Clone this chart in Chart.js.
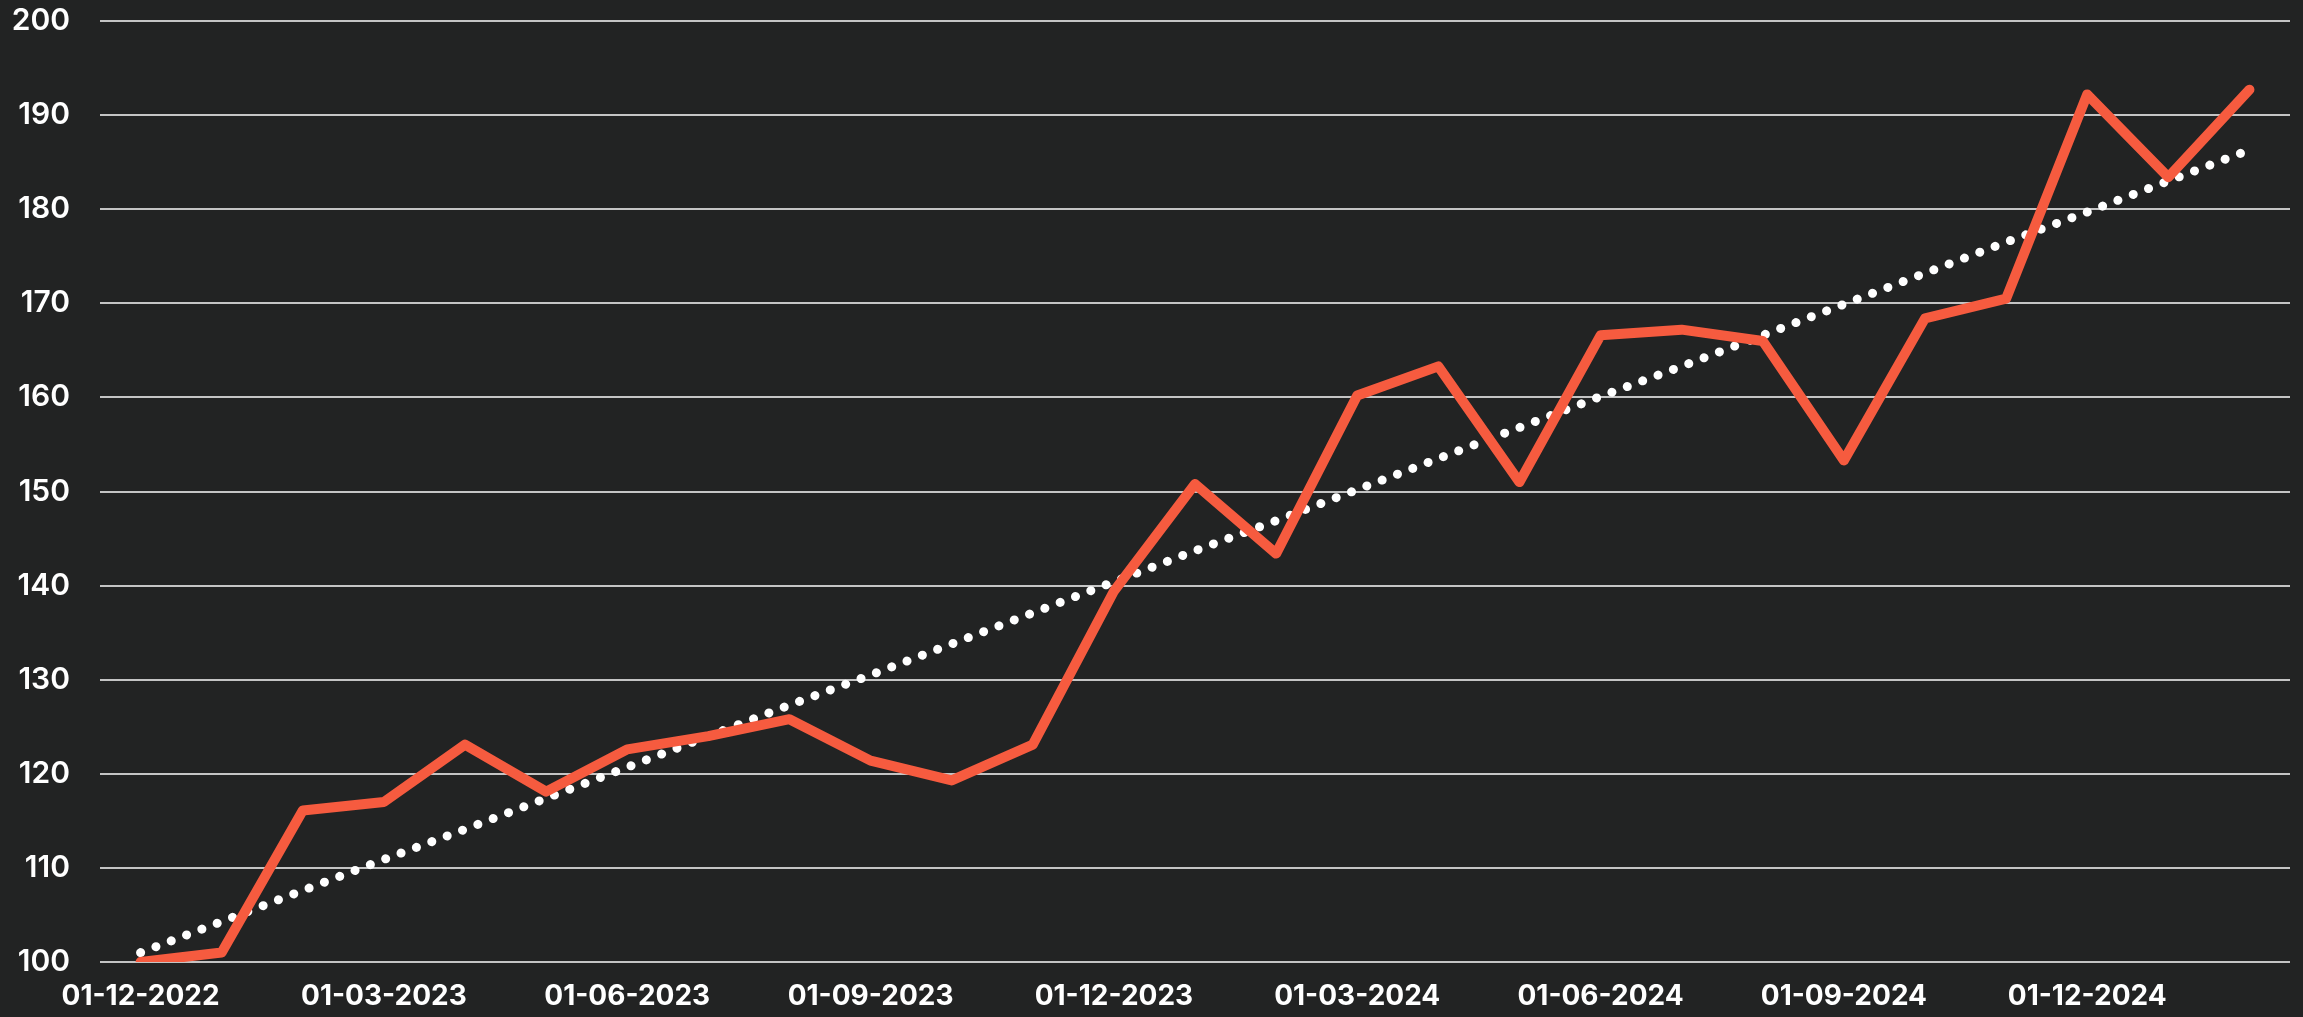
<!DOCTYPE html>
<html>
<head>
<meta charset="utf-8">
<script src="https://cdn.jsdelivr.net/npm/chart.js@4/dist/chart.umd.min.js"></script>
<style>
  html, body { margin: 0; padding: 0; background: #222323; }
  #wrap { width: 2303px; height: 1017px; }
</style>
</head>
<body>
<div id="wrap"><canvas id="canvasid"></canvas></div>
<script>
const months = [
  "01-12-2022", "01-01-2023", "01-02-2023", "01-03-2023", "01-04-2023", "01-05-2023",
  "01-06-2023", "01-07-2023", "01-08-2023", "01-09-2023", "01-10-2023", "01-11-2023",
  "01-12-2023", "01-01-2024", "01-02-2024", "01-03-2024", "01-04-2024", "01-05-2024",
  "01-06-2024", "01-07-2024", "01-08-2024", "01-09-2024", "01-10-2024", "01-11-2024",
  "01-12-2024", "01-01-2025", "01-02-2025"
];
const index = [
  100.0, 101.0, 116.1, 117.0, 123.1, 118.1, 122.6, 124.0, 125.8, 121.4, 119.3, 123.1,
  139.4, 150.8, 143.4, 160.2, 163.3, 151.0, 166.6, 167.2, 166.0, 153.3, 168.4, 170.5,
  192.2, 183.4, 192.7
];
const trend = [
  101.0, 104.3, 107.6, 110.9, 114.1, 117.4, 120.7, 124.0, 127.3, 130.5, 133.8, 137.1,
  140.4, 143.7, 146.9, 150.2, 153.5, 156.8, 160.1, 163.3, 166.6, 169.9, 173.2, 176.5,
  179.7, 183.0, 186.3
];
const yTicks = [100, 110, 120, 130, 140, 150, 160, 170, 180, 190, 200];

const canvas = document.getElementById("canvasid");

new Chart(canvas, {
  type: 'line',
  data: {
    labels: months,
    datasets: [
      {
        label: "Trend",
        data: trend,
        borderColor: '#ffffff',
        borderWidth: 9,
        borderDash: [0.1, 16.3],
        borderCapStyle: 'round',
        pointRadius: 0,
        tension: 0,
        order: 2
      },
      {
        label: "Index",
        data: index,
        borderColor: '#f65b3f',
        borderWidth: 10,
        borderCapStyle: 'round',
        borderJoinStyle: 'round',
        pointRadius: 0,
        tension: 0,
        order: 1
      }
    ]
  },
  options: {
    responsive: true,
    maintainAspectRatio: false,
    animation: false,
    layout: {
      padding: { top: 0, right: 13, left: 0, bottom: 0 }
    },
    plugins: {
      legend: { display: false },
      tooltip: { enabled: false }
    },
    scales: {
      x: {
        offset: true,
        border: { display: false },
        grid: { display: false, drawTicks: false },
        afterFit: (scale) => { scale.height = 55; },
        ticks: {
          color: '#ffffff',
          autoSkip: false,
          maxRotation: 0,
          padding: 18,
          font: { family: 'Inter', size: 28, weight: 700 },
          callback: function (value, i) {
            return i % 3 === 0 ? this.getLabelForValue(value) : '';
          }
        }
      },
      y: {
        min: 100,
        max: 200,
        border: { display: false },
        grid: { color: '#c4c4c4', lineWidth: 2, drawTicks: false },
        afterFit: (scale) => {
          scale.width = 100;
          // ticks.padding also pads the top; keep the 200 line near the top edge
          scale.paddingTop = 21;
          scale.paddingBottom = 0;
        },
        afterBuildTicks: (scale) => {
          scale.ticks = yTicks.map(v => ({ value: v }));
        },
        ticks: {
          color: '#ffffff',
          padding: 30,
          font: { family: 'Inter', size: 30, weight: 600 }
        }
      }
    }
  }
});
</script>
</body>
</html>
